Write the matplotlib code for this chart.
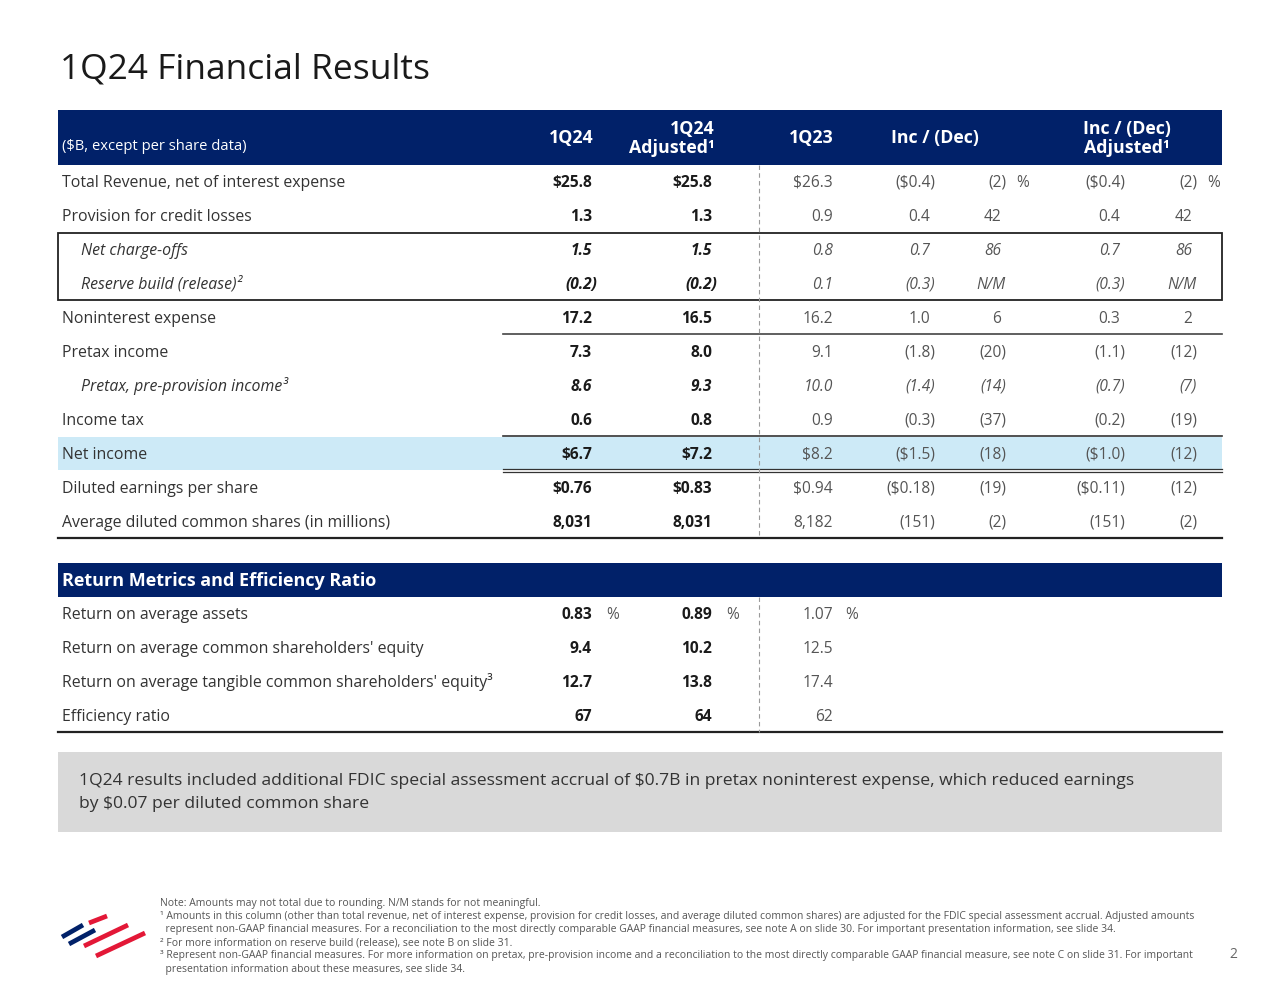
import matplotlib.pyplot as plt
from matplotlib.patches import Rectangle

plt.rcParams['font.family'] = ['Open Sans', 'DejaVu Sans']

########## table content #################################################################
row_labels = ["Total Revenue, net of interest expense", "Provision for credit losses",
              "Net charge-offs", "Reserve build (release)²", "Noninterest expense",
              "Pretax income", "Pretax, pre-provision income³", "Income tax", "Net income",
              "Diluted earnings per share", "Average diluted common shares (in millions)"]
italic_rows = [2, 3, 6]
q124 = ["$25.8", "1.3", "1.5", "(0.2)", "17.2", "7.3", "8.6", "0.6", "$6.7", "$0.76", "8,031"]
q124_adj = ["$25.8", "1.3", "1.5", "(0.2)", "16.5", "8.0", "9.3", "0.8", "$7.2", "$0.83", "8,031"]
q123 = ["$26.3", "0.9", "0.8", "0.1", "16.2", "9.1", "10.0", "0.9", "$8.2", "$0.94", "8,182"]
chg_amt = ["($0.4)", "0.4", "0.7", "(0.3)", "1.0", "(1.8)", "(1.4)", "(0.3)", "($1.5)", "($0.18)", "(151)"]
chg_pct = ["(2)", "42", "86", "N/M", "6", "(20)", "(14)", "(37)", "(18)", "(19)", "(2)"]
adj_amt = ["($0.4)", "0.4", "0.7", "(0.3)", "0.3", "(1.1)", "(0.7)", "(0.2)", "($1.0)", "($0.11)", "(151)"]
adj_pct = ["(2)", "42", "86", "N/M", "2", "(12)", "(7)", "(19)", "(12)", "(12)", "(2)"]

metric_labels = ["Return on average assets", "Return on average common shareholders' equity",
                 "Return on average tangible common shareholders' equity³", "Efficiency ratio"]
metric_q124 = ["0.83", "9.4", "12.7", "67"]
metric_q124_adj = ["0.89", "10.2", "13.8", "64"]
metric_q123 = ["1.07", "12.5", "17.4", "62"]

note_lines = ["1Q24 results included additional FDIC special assessment accrual of $0.7B in pretax noninterest expense, which reduced earnings",
              "by $0.07 per diluted common share"]
footnotes = [
    "Note: Amounts may not total due to rounding. N/M stands for not meaningful.",
    "¹ Amounts in this column (other than total revenue, net of interest expense, provision for credit losses, and average diluted common shares) are adjusted for the FDIC special assessment accrual. Adjusted amounts",
    "  represent non-GAAP financial measures. For a reconciliation to the most directly comparable GAAP financial measures, see note A on slide 30. For important presentation information, see slide 34.",
    "² For more information on reserve build (release), see note B on slide 31.",
    "³ Represent non-GAAP financial measures. For more information on pretax, pre-provision income and a reconciliation to the most directly comparable GAAP financial measure, see note C on slide 31. For important",
    "  presentation information about these measures, see slide 34.",
]

########## layout / colours ###############################################################
navy = "#012169"
red = "#e31837"
hl_blue = "#cdeaf7"
box_gray = "#d9d9d9"
c_label = "#333333"
c_bold = "#1a1a1a"
c_light = "#555555"

L, R = 58, 1222            # table left / right
col_x = [592, 712, 833, 930, 1001, 1120, 1192]   # right edges of the value columns
row_y0, row_dy = 181, 34
met_y0 = 613
fs_lab = 11.4
fs_num = 11.2

fig = plt.figure(figsize=(12.8, 9.89), dpi=100)
ax = fig.add_axes([0, 0, 1, 1])
ax.set_xlim(0, 1280)
ax.set_ylim(989, 0)
ax.axis('off')


def txt(x, y, s, fontsize=fs_lab, **kw):
    # y is the middle of the capitals -> put the baseline below it
    ax.text(x, y + 0.357 * fontsize * 100 / 72, s, parse_math=False, va='baseline',
            fontsize=fontsize, **kw)


def num(ci, y, s, bold=False, italic=False):
    x = col_x[ci] + (5 if (s.endswith(")") or s == "N/M") else 0)
    txt(x, y, s, fontsize=fs_num, ha='right', fontweight='bold' if bold else 'normal',
        fontstyle='italic' if italic else 'normal', color=c_bold if bold else c_light)


# title
txt(60, 66, "1Q24 Financial Results", fontsize=25.5, color="#1a1a1a")

########## main table #####################################################################
ax.add_patch(Rectangle((L, 110), R - L, 55, color=navy, lw=0))
hd = dict(color="white", fontweight='bold', fontsize=12.8)
txt(62, 145, "($B, except per share data)", color="white", fontsize=10.6)
txt(571, 137, "1Q24", ha='center', **hd)
txt(715, 128, "1Q24", ha='right', **hd)
txt(715, 147, "Adjusted¹", ha='right', **hd)
txt(811, 137, "1Q23", ha='center', **hd)
txt(935, 137, "Inc / (Dec)", ha='center', **hd)
txt(1127, 128, "Inc / (Dec)", ha='center', **hd)
txt(1127, 147, "Adjusted¹", ha='center', **hd)

ni = row_labels.index("Net income")
y_ni = row_y0 + ni * row_dy
ax.add_patch(Rectangle((L, y_ni - 16.5), R - L, 33, color=hl_blue, lw=0))

for i, lab in enumerate(row_labels):
    y = row_y0 + i * row_dy
    it = i in italic_rows
    txt(81 if it else 62, y, lab, color=c_label, fontstyle='italic' if it else 'normal')
    cols = [q124[i], q124_adj[i], q123[i], chg_amt[i], chg_pct[i], adj_amt[i], adj_pct[i]]
    for ci, s in enumerate(cols):
        num(ci, y, s, bold=ci < 2, italic=it)
txt(1016, row_y0, "%", fontsize=fs_num, color=c_light, ha='left')
txt(1207, row_y0, "%", fontsize=fs_num, color=c_light, ha='left')

# rules
y_box0 = row_y0 + 2 * row_dy - 16
y_box1 = row_y0 + 3 * row_dy + 17
ax.add_patch(Rectangle((L, y_box0), R - L, y_box1 - y_box0, fill=False, ec="#222222", lw=1.3))
ax.plot([503, R], [row_y0 + 4 * row_dy + 17] * 2, color="#444444", lw=1.2)
ax.plot([503, R], [y_ni - 17] * 2, color="#333333", lw=1.2)
ax.plot([503, R], [y_ni + 16] * 2, color="#333333", lw=0.9)
ax.plot([503, R], [y_ni + 19] * 2, color="#333333", lw=0.9)
y_end = row_y0 + (len(row_labels) - 1) * row_dy + 17
ax.plot([L, R], [y_end] * 2, color="#222222", lw=1.6)
ax.plot([759, 759], [165, y_end], color="#9a9a9a", lw=0.8, ls=(0, (4, 3)))

########## return metrics #################################################################
ax.add_patch(Rectangle((L, 563), R - L, 34, color=navy, lw=0))
txt(62, 580, "Return Metrics and Efficiency Ratio", color="white", fontweight='bold', fontsize=13)
for i, lab in enumerate(metric_labels):
    y = met_y0 + i * row_dy
    txt(62, y, lab, color=c_label)
    num(0, y, metric_q124[i], bold=True)
    num(1, y, metric_q124_adj[i], bold=True)
    num(2, y, metric_q123[i])
for px in [606, 726, 845]:
    txt(px, met_y0, "%", fontsize=fs_num, color=c_light, ha='left')
y_mend = met_y0 + (len(metric_labels) - 1) * row_dy + 17
ax.plot([L, R], [y_mend] * 2, color="#222222", lw=1.6)
ax.plot([759, 759], [597, y_mend], color="#9a9a9a", lw=0.8, ls=(0, (4, 3)))

########## note box and footnotes #########################################################
ax.add_patch(Rectangle((L, 752), R - L, 80, color=box_gray, lw=0))
for k, line in enumerate(note_lines):
    txt(79, 779 + k * 23, line, color=c_label, fontsize=12.6)

for k, line in enumerate(footnotes):
    txt(160, 902 + k * 13.2, line, color="#555555", fontsize=7.45)
txt(1233, 953, "2", color="#666666", fontsize=10, ha='center')

# logo (flagscape stripes)
for (x0, y0, x1, y1) in [(62, 937, 83, 925), (69, 944, 95, 930)]:
    ax.plot([x0, x1], [y0, y1], color=navy, lw=3.4, solid_capstyle='butt')
for (x0, y0, x1, y1) in [(89, 923, 107, 916), (84, 946, 128, 925), (96, 956, 145, 933)]:
    ax.plot([x0, x1], [y0, y1], color=red, lw=3.4, solid_capstyle='butt')

fig.savefig("out.png", dpi=100)
